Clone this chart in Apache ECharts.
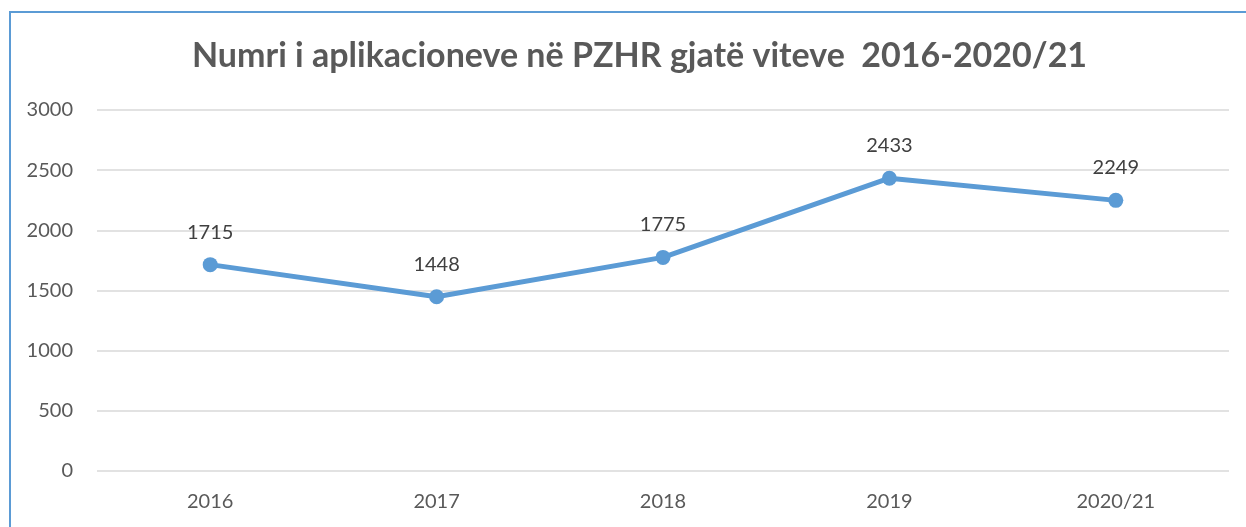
<!DOCTYPE html>
<html>
<head>
<meta charset="utf-8">
<script src="https://cdn.jsdelivr.net/npm/echarts@6/dist/echarts.min.js"></script>
<style>
  html, body { margin: 0; padding: 0; background: #fff; }
  #frame {
    position: absolute; left: 9px; top: 11px; width: 1237px; height: 516px;
    border-left: 2px solid #5B9BD5; border-top: 2px solid #5B9BD5; box-sizing: border-box;
  }
  #chart { position: absolute; left: 0; top: 0; width: 1246px; height: 527px; }
</style>
</head>
<body>
<div id="frame"></div>
<div id="chart"></div>
<script>
// chart data
const categories = ['2016', '2017', '2018', '2019', '2020/21'];
const applications = [1715, 1448, 1775, 2433, 2249];
const titleText = 'Numri i aplikacioneve në PZHR gjatë viteve  2016-2020/21';

const fontFamily = 'Lato, "Noto Sans", sans-serif';

const chart = echarts.init(document.getElementById('chart'));

chart.setOption({
  backgroundColor: 'transparent',
  animation: false,
  title: {
    text: titleText,
    left: 187,
    top: 34,
    textStyle: {
      fontFamily,
      fontSize: 34,
      fontWeight: 'bold',
      color: '#595959',
    },
  },
  grid: { left: 97, right: 17, top: 110, bottom: 56 },
  xAxis: {
    type: 'category',
    data: categories,
    boundaryGap: true,
    axisLine: { show: false },
    axisTick: { show: false },
    axisLabel: { color: '#595959', fontSize: 20, fontFamily, margin: 21 },
  },
  yAxis: {
    type: 'value',
    min: 0,
    max: 3000,
    interval: 500,
    axisLine: { show: false },
    axisTick: { show: false },
    axisLabel: {
      color: '#595959',
      fontSize: 20,
      fontFamily,
      margin: 24,
      formatter: (v) => String(v), // no thousands separator
    },
    splitLine: { lineStyle: { color: '#d9d9d9', width: 1.5 } },
  },
  series: [
    {
      type: 'line',
      data: applications,
      symbol: 'circle',
      symbolSize: 15,
      lineStyle: { color: '#5B9BD5', width: 5 },
      itemStyle: { color: '#5B9BD5' },
      label: {
        show: true,
        position: 'top',
        distance: 15,
        color: '#404040',
        fontSize: 20,
        fontFamily,
      },
    },
  ],
});
</script>
</body>
</html>
